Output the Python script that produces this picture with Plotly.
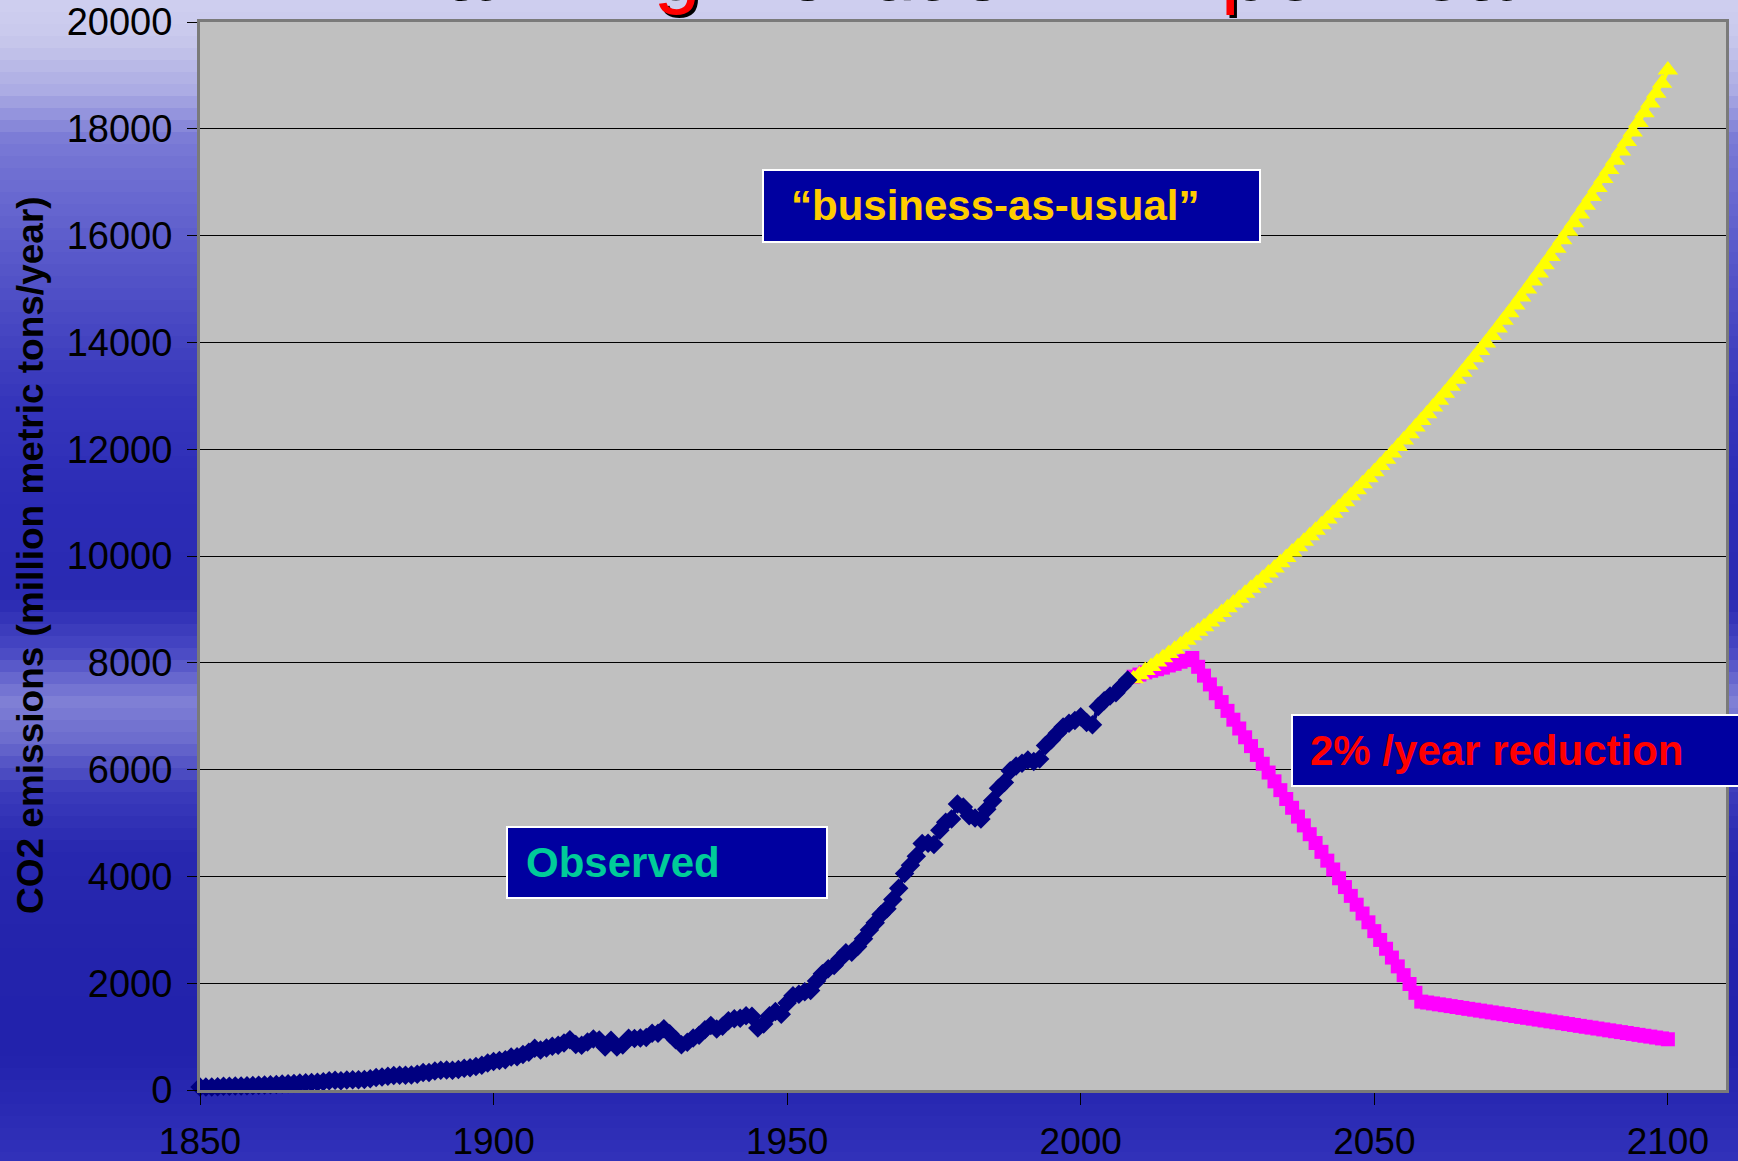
import plotly.graph_objects as go

# observed emissions 1850-2008
obs_years = list(range(1850, 2009))
obs_values = [
    54, 54, 57, 59, 69, 71, 76, 77, 78, 83,
    91, 95, 97, 104, 112, 119, 122, 130, 135, 142,
    147, 156, 173, 184, 174, 188, 191, 194, 196, 210,
    236, 243, 256, 272, 275, 277, 281, 295, 327, 327,
    356, 372, 374, 370, 383, 406, 419, 440, 465, 507,
    534, 552, 566, 617, 624, 663, 707, 784, 750, 785,
    819, 836, 879, 943, 850, 838, 901, 955, 936, 806,
    932, 803, 845, 970, 963, 975, 983, 1062, 1065, 1145,
    1053, 940, 847, 893, 973, 1027, 1130, 1209, 1142, 1192,
    1299, 1334, 1342, 1391, 1383, 1160, 1238, 1392, 1469, 1419,
    1630, 1767, 1795, 1841, 1865, 2042, 2177, 2270, 2330, 2454,
    2569, 2580, 2686, 2833, 2995, 3130, 3288, 3393, 3566, 3780,
    4053, 4208, 4376, 4614, 4623, 4596, 4864, 5016, 5074, 5357,
    5301, 5138, 5094, 5075, 5258, 5417, 5650, 5760, 5980, 6066,
    6120, 6180, 6150, 6200, 6450, 6560, 6680, 6800, 6870, 6920,
    6990, 6880, 6840, 7180, 7290, 7380, 7440, 7560, 7680,
]

# projections 2009-2100
proj_years = list(range(2009, 2101))
bau_values = [
    7700, 7777, 7855, 7933, 8013, 8093, 8174, 8255, 8338, 8421,
    8506, 8591, 8677, 8763, 8851, 8940, 9029, 9119, 9211, 9303,
    9396, 9490, 9585, 9680, 9777, 9875, 9974, 10074, 10174, 10276,
    10379, 10483, 10587, 10693, 10800, 10908, 11017, 11127, 11239, 11351,
    11464, 11579, 11695, 11812, 11930, 12049, 12170, 12291, 12414, 12538,
    12664, 12790, 12918, 13047, 13178, 13310, 13443, 13577, 13713, 13850,
    13989, 14129, 14270, 14413, 14557, 14702, 14849, 14998, 15148, 15299,
    15452, 15607, 15763, 15920, 16080, 16240, 16403, 16567, 16732, 16900,
    17069, 17239, 17412, 17586, 17762, 17939, 18119, 18300, 18483, 18668,
    18854, 19100,
]
cut_values = [
    7740, 7780, 7820, 7850, 7880, 7910, 7950, 7980, 8020, 8050,
    8090, 7925, 7760, 7595, 7430, 7265, 7100, 6935, 6770, 6605,
    6440, 6275, 6110, 5945, 5780, 5615, 5450, 5285, 5120, 4955,
    4790, 4625, 4460, 4295, 4130, 3965, 3800, 3635, 3470, 3305,
    3140, 2975, 2810, 2645, 2480, 2315, 2150, 1985, 1820, 1655,
    1638, 1621, 1604, 1588, 1571, 1554, 1537, 1520, 1504, 1487,
    1470, 1453, 1436, 1420, 1403, 1386, 1369, 1352, 1336, 1319,
    1302, 1285, 1268, 1252, 1235, 1218, 1201, 1184, 1168, 1151,
    1134, 1117, 1100, 1084, 1067, 1050, 1033, 1016, 1000, 983,
    966, 950,
]

year_ticks = [1850, 1900, 1950, 2000, 2050, 2100]

W, H = 1738, 1161
L, R, T, B = 200, 12, 22, 71
pw, ph = W - L - R, H - T - B


def px(x):
    return (x - L) / pw


def py(y):
    return (H - B - y) / ph


fig = go.Figure()
fig.add_trace(go.Scatter(x=proj_years, y=cut_values, mode='lines+markers',
                         line=dict(color='#FF00FF', width=4),
                         marker=dict(symbol='square', size=14, color='#FF00FF'),
                         cliponaxis=False))
fig.add_trace(go.Scatter(x=proj_years, y=bau_values, mode='lines+markers',
                         line=dict(color='#FFFF00', width=4),
                         marker=dict(symbol='triangle-up', size=18, color='#FFFF00'),
                         cliponaxis=False))
fig.add_trace(go.Scatter(x=obs_years, y=obs_values, mode='lines+markers',
                         line=dict(color='#000080', width=4),
                         marker=dict(symbol='diamond', size=15, color='#000080'),
                         cliponaxis=False))

# background gradient (page), drawn as horizontal bands
stops = [(0, (208, 208, 240)), (40, (200, 200, 236)), (90, (172, 172, 228)),
         (140, (122, 122, 214)), (200, (104, 104, 208)), (260, (88, 88, 202)),
         (330, (70, 70, 194)), (400, (54, 54, 188)), (500, (44, 44, 182)),
         (600, (42, 42, 178)), (650, (72, 72, 196)), (700, (128, 128, 214)),
         (740, (108, 108, 206)), (790, (60, 60, 188)), (850, (40, 40, 176)),
         (950, (36, 36, 172)), (1050, (34, 34, 172)), (1161, (50, 50, 186))]
shapes = []
step = 12
for y0 in range(0, H, step):
    yc = y0 + step / 2
    for (a, ca), (b, cb) in zip(stops[:-1], stops[1:]):
        if a <= yc <= b:
            f = (yc - a) / (b - a)
            c = tuple(int(ca[i] + (cb[i] - ca[i]) * f) for i in range(3))
            break
    shapes.append(dict(type='rect', xref='paper', yref='paper', layer='below',
                       x0=px(0), x1=px(W), y0=py(y0 + step + 1), y1=py(y0),
                       fillcolor='rgb(%d,%d,%d)' % c, line=dict(width=0)))
shapes.append(dict(type='rect', xref='paper', yref='paper', layer='below',
                   x0=0, x1=1, y0=0, y1=1, fillcolor='#C0C0C0', line=dict(width=0)))

# label boxes
boxes = [
    (763, 1260, 170, 242),
    (507, 827, 827, 898),
    (1292, 1760, 715, 786),
]
for x0, x1, y0, y1 in boxes:
    shapes.append(dict(type='rect', xref='paper', yref='paper', layer='above',
                       x0=px(x0), x1=px(x1), y0=py(y1), y1=py(y0),
                       fillcolor='#0000A0', line=dict(color='white', width=2)))

labels = [
    ('“business-as-usual”', 790, 206, '#FFCC00'),
    ('Observed', 525, 862, '#00CC99'),
    ('2% /year reduction', 1309, 750, '#FF0000'),
]
annotations = []
for text, x, y, color in labels:
    annotations.append(dict(text='<b>%s</b>' % text, xref='paper', yref='paper',
                            x=px(x), y=py(y), xanchor='left', yanchor='middle',
                            showarrow=False, borderpad=0,
                            font=dict(family='Arial, Liberation Sans', size=42, color=color)))

title = 'Warming Pollution 2% per Year'
for dx, dy, color in [(3, -3, 'black'), (0, 0, '#FF0000')]:
    annotations.append(dict(text=title, xref='paper', yref='paper',
                            x=px(950), y=1.0, xanchor='center', yanchor='bottom',
                            xshift=dx, yshift=dy + 6, showarrow=False, borderpad=0,
                            font=dict(family='Arial, Liberation Sans', size=85, color=color)))

annotations.append(dict(text='<b>CO2 emissions (million metric tons/year)</b>',
                        xref='paper', yref='paper', x=px(30), y=py(555),
                        xanchor='center', yanchor='middle', textangle=-90,
                        showarrow=False,
                        font=dict(family='Arial, Liberation Sans', size=37, color='black')))

fig.update_layout(
    width=W, height=H,
    margin=dict(l=L, r=R, t=T, b=B, pad=0, autoexpand=False),
    paper_bgcolor='#2a2ab2',
    plot_bgcolor='#C0C0C0',
    showlegend=False,
    shapes=shapes,
    annotations=annotations,
    font=dict(family='Arial, Liberation Sans', color='black'),
)
fig.update_xaxes(range=[1850, 2109.9], tickvals=year_ticks, showgrid=False, zeroline=False,
                 automargin=False, tickformat='d',
                 ticks='outside', ticklen=12, tickcolor='black', tickwidth=1,
                 ticklabelstandoff=5, tickfont=dict(size=37, color='black'),
                 showline=True, linecolor='#7a7a7a', linewidth=3, mirror=True)
fig.update_yaxes(range=[0, 20000], dtick=2000, showgrid=True, gridcolor='black', gridwidth=1,
                 zeroline=False, automargin=False, tickformat='d',
                 ticks='outside', ticklen=10, tickcolor='black', tickwidth=1,
                 ticklabelstandoff=7, tickfont=dict(size=38, color='black'),
                 showline=True, linecolor='#7a7a7a', linewidth=3, mirror=True)

fig.write_html("out.html", config={'displayModeBar': False},
               post_script="document.body.style.margin='0';document.body.style.overflow='hidden';")
